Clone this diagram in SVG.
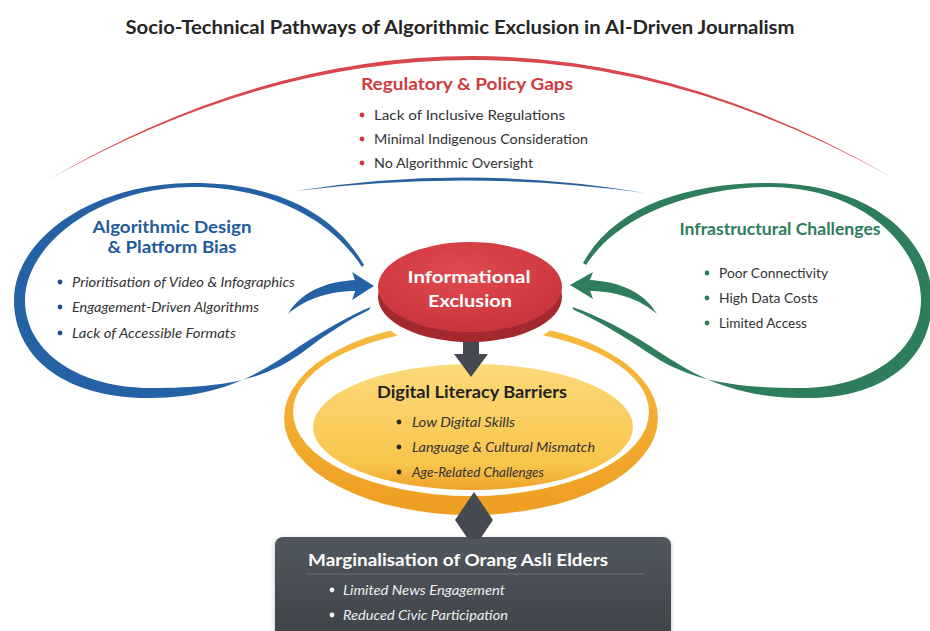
<svg xmlns="http://www.w3.org/2000/svg" width="930" height="631" viewBox="0 0 930 631">
  <defs>
    <style>
      text { font-family: Lato, "Open Sans", "Liberation Sans", sans-serif; }
      .title { font-size: 19px; font-weight: 700; fill: #262626; }
      .head { font-size: 17px; font-weight: 700; }
      .body { font-size: 14px; fill: #333333; }
      .it { font-style: italic; }
      .red { fill: #cf3a3f; }
      .blue { fill: #1f5a9b; }
      .green { fill: #2c7b5a; }
      .dark { fill: #222222; }
      .white { fill: #ffffff; }
      .light { fill: #eceef0; }
      .dot-red { fill: #d2393e; }
      .dot-blue { fill: #1f4f86; }
      .dot-green { fill: #2c7b5a; }
      .dot-dark { fill: #2a2a2a; }
      .dot-white { fill: #f2f2f2; }
    </style>
    <linearGradient id="gYellow" x1="0" y1="0" x2="0" y2="1">
      <stop offset="0" stop-color="#fcd97a"/>
      <stop offset="0.8" stop-color="#f8c54b"/>
      <stop offset="1" stop-color="#eea12a"/>
    </linearGradient>
    <linearGradient id="gRing" x1="0" y1="0" x2="0" y2="1">
      <stop offset="0" stop-color="#f7bb40"/>
      <stop offset="1" stop-color="#ee9e22"/>
    </linearGradient>
    <radialGradient id="gRed" cx="0.45" cy="0.35" r="0.7">
      <stop offset="0" stop-color="#e24a4e"/>
      <stop offset="1" stop-color="#c7333a"/>
    </radialGradient>
    <linearGradient id="gBox" x1="0" y1="0" x2="0" y2="1">
      <stop offset="0" stop-color="#52575e"/>
      <stop offset="1" stop-color="#3d4248"/>
    </linearGradient>
    <filter id="soft" x="-10%" y="-10%" width="120%" height="130%">
      <feDropShadow dx="0" dy="2" stdDeviation="2.5" flood-color="#000" flood-opacity="0.25"/>
    </filter>
  </defs>

  <rect x="0" y="0" width="930" height="631" fill="#ffffff"/>

  <text class="title" x="460" y="34" text-anchor="middle" textLength="669" lengthAdjust="spacingAndGlyphs">Socio-Technical Pathways of Algorithmic Exclusion in AI-Driven Journalism</text>

  <!-- Regulatory & Policy Gaps: wide red arc over everything -->
  <g id="regulatory">
    <path d="M48,180 Q470,-67 893,178 Q470,-59 48,180 Z" fill="#d8474b"/>
    <text class="head red" x="467" y="90" text-anchor="middle" textLength="212" lengthAdjust="spacingAndGlyphs">Regulatory &amp; Policy Gaps</text>
    <circle class="dot-red" cx="362" cy="115" r="2.4"/>
    <circle class="dot-red" cx="362" cy="139" r="2.4"/>
    <circle class="dot-red" cx="362" cy="163" r="2.4"/>
    <text class="body" x="374" y="120" textLength="191" lengthAdjust="spacingAndGlyphs">Lack of Inclusive Regulations</text>
    <text class="body" x="374" y="144" textLength="214" lengthAdjust="spacingAndGlyphs">Minimal Indigenous Consideration</text>
    <text class="body" x="374" y="168" textLength="159" lengthAdjust="spacingAndGlyphs">No Algorithmic Oversight</text>
  </g>

  <!-- Digital Literacy Barriers: orange ring with yellow disc -->
  <g id="digital-literacy">
    <path fill="url(#gRing)" fill-rule="evenodd" d="M284,418 A187,97 0 1,0 658,418 A187,97 0 1,0 284,418 Z M293,412 A178,84 0 1,0 649,412 A178,84 0 1,0 293,412 Z"/>
    <ellipse cx="470" cy="293" rx="101" ry="61" fill="#ffffff"/>
    <ellipse cx="473" cy="427" rx="160" ry="63" fill="url(#gYellow)"/>
    <text class="head dark" x="472" y="398" text-anchor="middle" textLength="190" lengthAdjust="spacingAndGlyphs">Digital Literacy Barriers</text>
    <circle class="dot-dark" cx="399" cy="422" r="2.4"/>
    <circle class="dot-dark" cx="399" cy="447" r="2.4"/>
    <circle class="dot-dark" cx="399" cy="472" r="2.4"/>
    <text class="body it" x="412" y="427" textLength="103" lengthAdjust="spacingAndGlyphs">Low Digital Skills</text>
    <text class="body it" x="412" y="452" textLength="183" lengthAdjust="spacingAndGlyphs">Language &amp; Cultural Mismatch</text>
    <text class="body it" x="412" y="477" textLength="132" lengthAdjust="spacingAndGlyphs">Age-Related Challenges</text>
  </g>

  <!-- Algorithmic Design & Platform Bias: blue teardrop loop -->
  <g id="algorithmic-design">
    <path fill="#2462a5" d="M364,265 C330,205 262,182 190,183 C90,184 14,240 14,300 C14,362 72,399 150,398 C225,397 262,372 300,346 C325,330 350,315 371,307 L369,310 C350,319 326,334 303,352 C264,380 224,388 150,388 C82,388 25,354 25,300 C25,246 96,188 190,187 C258,186 326,212 362,267 Z"/>
    <text class="head blue" x="172" y="233" text-anchor="middle" textLength="159" lengthAdjust="spacingAndGlyphs">Algorithmic Design</text>
    <text class="head blue" x="172" y="253" text-anchor="middle" textLength="129" lengthAdjust="spacingAndGlyphs">&amp; Platform Bias</text>
    <circle class="dot-blue" cx="60" cy="282" r="2.4"/>
    <circle class="dot-blue" cx="60" cy="307" r="2.4"/>
    <circle class="dot-blue" cx="60" cy="333" r="2.4"/>
    <text class="body it" x="72" y="287" textLength="223" lengthAdjust="spacingAndGlyphs">Prioritisation of Video &amp; Infographics</text>
    <text class="body it" x="72" y="312" textLength="187" lengthAdjust="spacingAndGlyphs">Engagement-Driven Algorithms</text>
    <text class="body it" x="72" y="338" textLength="164" lengthAdjust="spacingAndGlyphs">Lack of Accessible Formats</text>
  </g>

  <!-- Infrastructural Challenges: green teardrop loop -->
  <g id="infrastructure">
    <path fill="#2e7d5d" d="M583,263 C615,205 690,182 772,183 C872,184 932,240 932,300 C932,362 880,400 802,398 C726,397 690,372 650,346 C625,330 597,315 572,307 L574,310 C597,320 622,335 647,352 C688,380 730,388 802,388 C868,388 921,352 921,300 C921,246 862,188 772,187 C700,187 620,212 586,265 Z"/>
    <text class="head green" x="780" y="235" text-anchor="middle" textLength="201" lengthAdjust="spacingAndGlyphs">Infrastructural Challenges</text>
    <circle class="dot-green" cx="707" cy="273" r="2.4"/>
    <circle class="dot-green" cx="707" cy="298" r="2.4"/>
    <circle class="dot-green" cx="707" cy="323" r="2.4"/>
    <text class="body" x="719" y="278" textLength="109" lengthAdjust="spacingAndGlyphs">Poor Connectivity</text>
    <text class="body" x="719" y="303" textLength="99" lengthAdjust="spacingAndGlyphs">High Data Costs</text>
    <text class="body" x="719" y="328" textLength="88" lengthAdjust="spacingAndGlyphs">Limited Access</text>
  </g>

  <!-- Marginalisation of Orang Asli Elders: dark panel -->
  <g id="marginalisation">
    <rect x="275" y="537" width="396" height="110" rx="8" fill="url(#gBox)" filter="url(#soft)"/>
    <text class="head white" x="308" y="566" textLength="300" lengthAdjust="spacingAndGlyphs">Marginalisation of Orang Asli Elders</text>
    <line x1="306" y1="574" x2="645" y2="574" stroke="#6d7278" stroke-width="1"/>
    <circle class="dot-white" cx="332" cy="590" r="2.4"/>
    <circle class="dot-white" cx="332" cy="615" r="2.4"/>
    <text class="body it light" x="343" y="595" textLength="162" lengthAdjust="spacingAndGlyphs">Limited News Engagement</text>
    <text class="body it light" x="343" y="620" textLength="165" lengthAdjust="spacingAndGlyphs">Reduced Civic Participation</text>
  </g>

  <!-- Connectors -->
  <g id="connectors">
    <!-- thin blue arc linking the two side loops -->
    <path d="M295,191 Q470,163 645,193 Q470,169 295,191 Z" fill="#2a5f9e"/>
    <!-- blue arrow into the centre -->
    <path d="M288,314 C300,293 325,281 357,280 L357,291 C331,291 306,298 288,314 Z" fill="#2462a5"/>
    <path d="M352,272 L374,286 L352,300 L357,286 Z" fill="#2462a5"/>
    <!-- green arrow into the centre -->
    <path d="M657,314 C645,293 620,281 588,280 L588,291 C614,291 639,298 657,314 Z" fill="#2e7d5d"/>
    <path d="M593,272 L570,285 L593,299 L588,285 Z" fill="#2e7d5d"/>
    <!-- centre to literacy barriers -->
    <path d="M463,334 L479,334 L479,354 L488,354 L471,377 L454,354 L463,354 Z" fill="#454a51"/>
    <!-- literacy barriers to marginalisation -->
    <path d="M474,492 L493,520 L480,539 L468,539 L455,520 Z" fill="#454a51"/>
  </g>

  <!-- Informational Exclusion: red 3D disc -->
  <g id="informational-exclusion">
    <ellipse cx="470" cy="297" rx="92" ry="45" fill="#a4292e"/>
    <ellipse cx="470" cy="287" rx="92" ry="45" fill="url(#gRed)"/>
    <text class="head white" x="469" y="283" text-anchor="middle" font-size="19" textLength="123" lengthAdjust="spacingAndGlyphs">Informational</text>
    <text class="head white" x="470" y="307" text-anchor="middle" font-size="19" textLength="84" lengthAdjust="spacingAndGlyphs">Exclusion</text>
  </g>
</svg>
